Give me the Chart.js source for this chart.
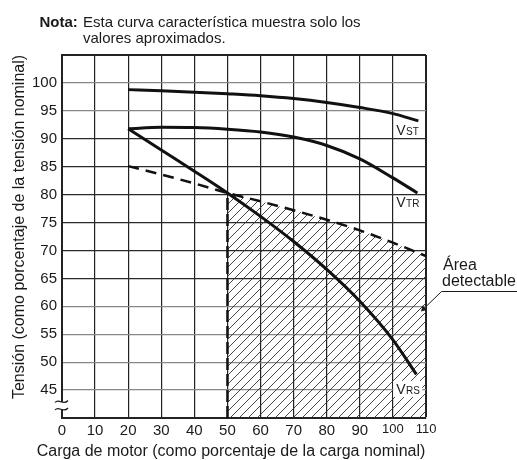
<!DOCTYPE html>
<html>
<head>
<meta charset="utf-8">
<script src="https://cdn.jsdelivr.net/npm/chart.js@4.4.1/dist/chart.umd.min.js"></script>
<style>
  html, body { margin: 0; padding: 0; background: #fff; }
</style>
</head>
<body>
<canvas id="chart" width="517" height="460"></canvas>
<script>
// carga de motor (% de la carga nominal) y tensión (% de la tensión nominal)
const loadVst = [20, 30, 40, 50, 60, 70, 80, 90, 100, 107.7];
const vst     = [98.8, 98.6, 98.35, 98.05, 97.7, 97.2, 96.5, 95.6, 94.5, 93.2];
const loadVtr = [20, 30, 40, 50, 60, 70, 80, 90, 100, 107.4];
const vtr     = [91.8, 92.05, 92.0, 91.7, 91.2, 90.3, 88.8, 86.4, 83.0, 80.3];
const loadVrs = [20, 30, 40, 50, 60, 70, 80, 90, 100, 107.1];
const vrs     = [91.8, 88.0, 84.2, 80.3, 76.1, 71.6, 66.6, 60.9, 54.0, 47.8];

// límite del área detectable (línea discontinua)
const loadLimit = [20, 30, 40, 50, 60, 70, 80, 90, 100, 110];
const limit     = [85.1, 83.6, 82.0, 80.3, 78.8, 77.2, 75.5, 73.6, 71.4, 69.0];
const areaFrom = 50; // el área detectable empieza al 50 % de carga

const xTickLabels = [0, 10, 20, 30, 40, 50, 60, 70, 80, 90, 100, 110];
const yTickLabels = [45, 50, 55, 60, 65, 70, 75, 80, 85, 90, 95, 100];

const FONT = '"Liberation Sans", Arial, Helvetica, sans-serif';
const INK = '#1a1a1a';

const pts = (xs, ys) => xs.map((x, i) => ({ x: x, y: ys[i] }));
const areaPts = pts(loadLimit, limit).filter(p => p.x >= areaFrom);
const areaTop = areaPts[0].y;

// rayado diagonal del área detectable
function hatch() {
  const s = 9;
  const c = document.createElement('canvas');
  c.width = s; c.height = s;
  const g = c.getContext('2d');
  g.strokeStyle = '#333';
  g.lineWidth = 0.9;
  g.beginPath();
  g.moveTo(0, s); g.lineTo(s, 0);
  g.moveTo(-1, 1); g.lineTo(1, -1);
  g.moveTo(s - 1, s + 1); g.lineTo(s + 1, s - 1);
  g.stroke();
  return g.createPattern(c, 'repeat');
}

const curve = (data) => ({
  data: data,
  showLine: true,
  borderColor: '#111',
  borderWidth: 3,
  pointRadius: 0,
  cubicInterpolationMode: 'monotone',
  fill: false,
  order: 1
});

// textos fuera del área de trazado
const overlay = {
  id: 'overlay',
  afterDatasetsDraw(chart) {
    const { ctx, scales: { x, y } } = chart;
    ctx.save();
    ctx.fillStyle = INK;
    ctx.strokeStyle = INK;

    // etiquetas de las curvas
    const sub = (main, small, vx, vy, bg) => {
      const px = x.getPixelForValue(vx), py = y.getPixelForValue(vy);
      if (bg) {
        ctx.fillStyle = '#fff';
        ctx.fillRect(px - 3, py - 13, 29, 16);
        ctx.fillStyle = INK;
      }
      ctx.textBaseline = 'alphabetic';
      ctx.textAlign = 'left';
      ctx.font = '14px ' + FONT;
      ctx.fillText(main, px, py);
      const w = ctx.measureText(main).width;
      ctx.font = '10px ' + FONT;
      ctx.fillText(small, px + w + 0.5, py);
    };
    sub('V', 'ST', 101.0, 90.7, false);
    sub('V', 'TR', 101.0, 77.8, false);
    sub('V', 'RS', 101.0, 44.3, true);

    // corte del eje Y
    const bx = x.getPixelForValue(0);
    ctx.fillStyle = '#fff';
    ctx.fillRect(bx - 4, 402, 8, 7);
    ctx.lineWidth = 1.2;
    [401.5, 409].forEach(ty => {
      ctx.beginPath();
      ctx.moveTo(bx - 7, ty + 1);
      ctx.bezierCurveTo(bx - 3, ty - 4, bx + 1, ty + 5, bx + 6, ty - 1);
      ctx.stroke();
    });
    ctx.restore();
  },
  afterDraw(chart) {
    const { ctx } = chart;
    ctx.save();
    ctx.fillStyle = INK;
    ctx.strokeStyle = INK;
    ctx.textAlign = 'left';
    ctx.textBaseline = 'alphabetic';

    // nota
    ctx.font = 'bold 15px ' + FONT;
    ctx.fillText('Nota:', 39.5, 26.5);
    ctx.font = '15px ' + FONT;
    ctx.fillText('Esta curva característica muestra solo los', 83, 26.5);
    ctx.fillText('valores aproximados.', 83, 42.5);

    // títulos de los ejes
    ctx.font = '16px ' + FONT;
    ctx.textAlign = 'center';
    ctx.fillText('Carga de motor (como porcentaje de la carga nominal)', 231, 456);
    ctx.save();
    ctx.translate(23.5, 227);
    ctx.rotate(-Math.PI / 2);
    ctx.fillText('Tensión (como porcentaje de la tensión nominal)', 0, 0);
    ctx.restore();

    // área detectable
    ctx.textAlign = 'left';
    ctx.fillText('Área', 443, 270);
    ctx.fillText('detectable', 442, 285.5);
    ctx.lineWidth = 1;
    ctx.beginPath();
    ctx.moveTo(517, 291.5);
    ctx.lineTo(441.5, 291.5);
    ctx.lineTo(424, 308.5);
    ctx.stroke();
    ctx.beginPath();
    ctx.moveTo(421, 311.5);
    ctx.lineTo(422.5, 305.5);
    ctx.lineTo(427, 310);
    ctx.closePath();
    ctx.fill();
    ctx.restore();
  }
};

new Chart(document.getElementById('chart'), {
  type: 'scatter',
  data: {
    datasets: [
      curve(pts(loadVst, vst)),
      curve(pts(loadVtr, vtr)),
      curve(pts(loadVrs, vrs)),
      {
        // límite discontinuo
        data: pts(loadLimit, limit),
        showLine: true,
        borderColor: '#111',
        borderWidth: 2.5,
        borderDash: [11, 7],
        pointRadius: 0,
        cubicInterpolationMode: 'monotone',
        fill: false,
        order: 2
      },
      {
        // borde vertical del área
        data: [{ x: areaFrom, y: 40 }, { x: areaFrom, y: areaTop }],
        showLine: true,
        borderColor: '#111',
        borderWidth: 2.5,
        borderDash: [12, 4],
        pointRadius: 0,
        fill: false,
        order: 2
      },
      {
        // área detectable rayada
        data: areaPts,
        showLine: true,
        borderWidth: 0,
        borderColor: 'rgba(0,0,0,0)',
        backgroundColor: hatch(),
        pointRadius: 0,
        cubicInterpolationMode: 'monotone',
        fill: 'start',
        order: 3
      }
    ]
  },
  options: {
    responsive: false,
    animation: false,
    layout: { padding: { top: 55, right: 91, left: 0, bottom: 0 } },
    plugins: {
      legend: { display: false },
      tooltip: { enabled: false }
    },
    scales: {
      x: {
        type: 'linear',
        min: 0,
        max: 110,
        afterFit: (s) => { s.height = 42; },
        ticks: {
          stepSize: 10,
          padding: 4,
          color: INK,
          maxRotation: 0,
          autoSkip: false,
          font: (c) => (c.tick && c.tick.value >= 100)
            ? { family: '"Liberation Sans Narrow", ' + FONT, size: 13 }
            : { family: FONT, size: 15 },
          callback: (v) => xTickLabels.includes(v) ? String(v) : ''
        },
        grid: {
          drawTicks: false,
          color: '#222',
          lineWidth: (c) => (c.tick && c.tick.value === 110) ? 2 : 1.2
        },
        border: { display: true, color: '#222', width: 2 }
      },
      y: {
        min: 40,
        max: 105,
        afterFit: (s) => { s.width = 62; },
        ticks: {
          stepSize: 5,
          padding: 5,
          color: INK,
          autoSkip: false,
          font: { family: FONT, size: 15 },
          callback: (v) => yTickLabels.includes(v) ? String(v) : ''
        },
        grid: {
          drawTicks: false,
          color: (c) => {
            const v = c.tick ? c.tick.value : 0;
            if (v === 105) return '#222';
            return (v >= 65 && v <= 90) ? '#2a2a2a' : '#888';
          },
          lineWidth: (c) => (c.tick && c.tick.value === 105) ? 2 : 1.2
        },
        border: { display: true, color: '#222', width: 2 }
      }
    }
  },
  plugins: [overlay]
});
</script>
</body>
</html>
